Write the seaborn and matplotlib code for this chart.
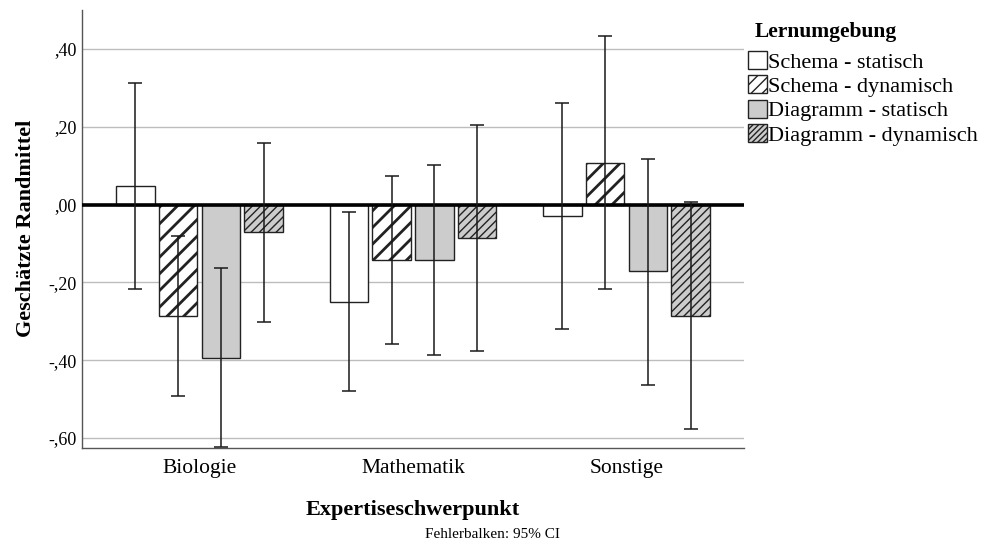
import matplotlib
matplotlib.use("Agg")
import matplotlib.pyplot as plt
import matplotlib.patches as mpatches
import seaborn as sns
import pandas as pd
import numpy as np

# ---- data ----
categories = ["Biologie", "Mathematik", "Sonstige"]
groups = ["Schema - statisch", "Schema - dynamisch", "Diagramm - statisch", "Diagramm - dynamisch"]
means = {
    "Schema - statisch":    [0.048, -0.250, -0.029],
    "Schema - dynamisch":   [-0.286, -0.142, 0.108],
    "Diagramm - statisch":  [-0.394, -0.142, -0.172],
    "Diagramm - dynamisch": [-0.071, -0.086, -0.286],
}
ci_low = {
    "Schema - statisch":    [-0.217, -0.480, -0.319],
    "Schema - dynamisch":   [-0.492, -0.359, -0.217],
    "Diagramm - statisch":  [-0.623, -0.388, -0.463],
    "Diagramm - dynamisch": [-0.301, -0.376, -0.577],
}
ci_high = {
    "Schema - statisch":    [0.313, -0.020, 0.261],
    "Schema - dynamisch":   [-0.081, 0.074, 0.433],
    "Diagramm - statisch":  [-0.164, 0.102, 0.118],
    "Diagramm - dynamisch": [0.158, 0.205, 0.006],
}
yticks = [-0.6, -0.4, -0.2, 0.0, 0.2, 0.4]
ytick_labels = ["-,60", "-,40", "-,20", ",00", ",20", ",40"]

rows = []
for g in groups:
    for c, m in zip(categories, means[g]):
        rows.append({"Expertiseschwerpunkt": c, "Lernumgebung": g, "mean": m})
df = pd.DataFrame(rows)

# ---- style ----
sns.set_style("white")
plt.rcParams["font.family"] = ["Liberation Serif", "DejaVu Serif"]
plt.rcParams["hatch.color"] = "black"
for k in ["text.color", "axes.labelcolor", "xtick.color", "ytick.color"]:
    plt.rcParams[k] = "black"

fig = plt.figure(figsize=(9.87, 5.56), dpi=100)
ax = fig.add_axes([82/987, 1-447.7/556, (744-82)/987, (447.7-10)/556])

face = {"Schema - statisch": "white", "Schema - dynamisch": "white",
        "Diagramm - statisch": "#cccccc", "Diagramm - dynamisch": "#cccccc"}
hatches = {"Schema - statisch": "", "Schema - dynamisch": "//",
           "Diagramm - statisch": "", "Diagramm - dynamisch": "////"}
legend_hatches = {"Schema - statisch": "", "Schema - dynamisch": "///",
                  "Diagramm - statisch": "", "Diagramm - dynamisch": "//////"}
hatch_lw = {"Schema - statisch": 1.0, "Schema - dynamisch": 2.0,
            "Diagramm - statisch": 1.0, "Diagramm - dynamisch": 1.0}

sns.barplot(data=df, x="Expertiseschwerpunkt", y="mean", hue="Lernumgebung",
            order=categories, hue_order=groups, palette=face,
            errorbar=None, width=0.8, gap=0.1, legend=False,
            edgecolor="#333333", linewidth=1.0, ax=ax, zorder=2)

handles = []
for cont, g in zip(ax.containers, groups):
    xs = []
    for bar in cont.patches:
        bar.set_facecolor(face[g])
        bar.set_edgecolor("#222222")
        bar.set_hatch(hatches[g])
        try:
            bar.set_hatch_linewidth(hatch_lw[g])
        except Exception:
            pass
        xs.append(bar.get_x() + bar.get_width() / 2)
    m = np.array(means[g]); lo = np.array(ci_low[g]); hi = np.array(ci_high[g])
    ax.errorbar(xs, m, yerr=[m - lo, hi - m], fmt="none", ecolor="#1a1a1a",
                elinewidth=1.1, capsize=5, capthick=1.1, zorder=5)
    h = mpatches.Patch(facecolor=face[g], edgecolor="#222222", hatch=legend_hatches[g], lw=1.0)
    try:
        h.set_hatch_linewidth(hatch_lw[g])
    except Exception:
        pass
    handles.append(h)

ax.axhline(0, color="black", lw=2.6, zorder=4)

ax.set_xlim(-0.55, 2.55)
ax.set_ylim(-0.625, 0.50)
ax.set_yticks(yticks)
ax.set_yticklabels(ytick_labels)
ax.yaxis.grid(True, color="#bdbdbd", lw=1.0, zorder=0)
ax.set_axisbelow(True)
ax.tick_params(axis="y", length=0, pad=4, labelsize=13)
ax.tick_params(axis="x", length=0, pad=8, labelsize=15.5)
for s in ["top", "right"]:
    ax.spines[s].set_visible(False)
for s in ["left", "bottom"]:
    ax.spines[s].set_color("#555555")
    ax.spines[s].set_linewidth(1.0)

ax.set_xlabel("Expertiseschwerpunkt", fontsize=16, fontweight="bold", labelpad=16)
ax.set_ylabel("Geschätzte Randmittel", fontsize=16, fontweight="bold", labelpad=9)

fig.text(755/987, 1-32/556, "Lernumgebung", ha="left", va="center",
         fontsize=15.5, fontweight="bold")
leg = fig.legend(handles=handles, labels=groups, loc="upper left",
                 bbox_to_anchor=(748/987, 1-51/556), frameon=False,
                 fontsize=16, handlelength=0.85, handleheight=0.85, handletextpad=0.05,
                 labelspacing=0.13, borderpad=0, borderaxespad=0)

fig.text(493/987, 1-534/556, "Fehlerbalken: 95% CI", ha="center", va="center", fontsize=11)

fig.savefig("out.png", dpi=100)
